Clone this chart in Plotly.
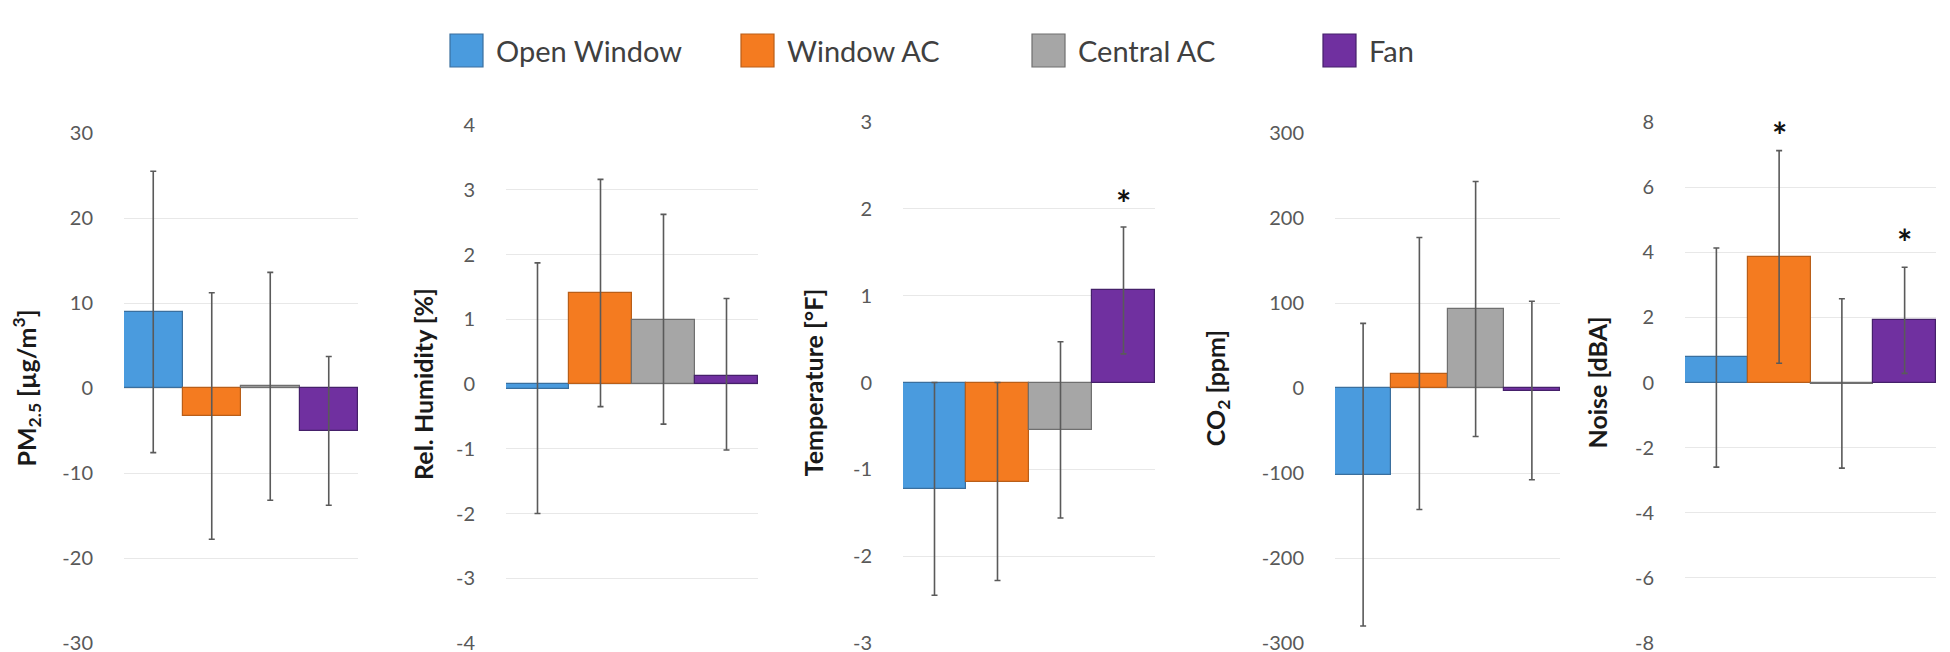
import plotly.graph_objects as go

# ---------------- data ----------------
series = ["Open Window", "Window AC", "Central AC", "Fan"]
metric_titles = ["PM<sub>2.5</sub> [µg/m<sup>3</sup>]", "Rel. Humidity [%]",
                 "Temperature [°F]", "CO<sub>2</sub> [ppm]", "Noise [dBA]"]

# mean change per series, metrics in order: PM2.5, RH, Temp, CO2, Noise
open_window = [9.0, -0.08, -1.23, -102, 0.78]
window_ac = [-3.3, 1.41, -1.15, 17, 3.84]
central_ac = [0.2, 0.99, -0.55, 93, -0.05]
fan = [-5.0, 0.12, 1.06, -3, 1.91]

# upper and lower ends of the error bars
open_window_hi = [25.5, 1.87, 0.00, 76, 4.13]
open_window_lo = [-7.6, -2.00, -2.45, -280, -2.60]
window_ac_hi = [11.2, 3.16, 0.00, 177, 7.12]
window_ac_lo = [-17.8, -0.35, -2.28, -143, 0.59]
central_ac_hi = [13.6, 2.62, 0.47, 243, 2.57]
central_ac_lo = [-13.2, -0.62, -1.56, -57, -2.63]
fan_hi = [3.7, 1.32, 1.79, 102, 3.54]
fan_lo = [-13.8, -1.02, 0.33, -108, 0.28]

# y-axis tick values and labels per metric
tick_vals = [
    [-30, -20, -10, 0, 10, 20, 30],
    [-4, -3, -2, -1, 0, 1, 2, 3, 4],
    [-3, -2, -1, 0, 1, 2, 3],
    [-300, -200, -100, 0, 100, 200, 300],
    [-8, -6, -4, -2, 0, 2, 4, 6, 8],
]
tick_text = [
    ["-30", "-20", "-10", "0", "10", "20", "30"],
    ["-4", "-3", "-2", "-1", "0", "1", "2", "3", "4"],
    ["-3", "-2", "-1", "0", "1", "2", "3"],
    ["-300", "-200", "-100", "0", "100", "200", "300"],
    ["-8", "-6", "-4", "-2", "0", "2", "4", "6", "8"],
]

# significance marks: (metric index, series index, y position)
sig_metric = [2, 4, 4]
sig_series = [3, 1, 3]
sig_y = [2.11, 7.73, 4.45]

values = [open_window, window_ac, central_ac, fan]
highs = [open_window_hi, window_ac_hi, central_ac_hi, fan_hi]
lows = [open_window_lo, window_ac_lo, central_ac_lo, fan_lo]

# ---------------- style ----------------
W, H = 1950, 652
fills = ["#4A9BDE", "#F47B20", "#A6A6A6", "#7030A0"]
edges = ["#3A6F9E", "#B95E18", "#6F6F6F", "#45206A"]
FONT = "Lato"
panel_x = [(116, 350), (498, 750), (895, 1147), (1327, 1552), (1677, 1928)]
panel_y = [(125, 635), (117, 635), (114, 635), (125, 635), (114, 635)]
title_standoff = [19, 15, 22, 29, 20]

fig = go.Figure()

for m in range(5):
    ax = "" if m == 0 else str(m + 1)
    for s in range(4):
        v = values[s][m]
        fig.add_trace(go.Bar(
            x=[s], y=[v], width=1.0,
            name=series[s], showlegend=False,
            marker=dict(color=fills[s], line=dict(color=edges[s], width=1.2)),
            error_y=dict(type="data", symmetric=False,
                         array=[highs[s][m] - v], arrayminus=[v - lows[s][m]],
                         color="#5A5A5A", thickness=1.6, width=3),
            xaxis="x" + ax, yaxis="y" + ax,
        ))

layout = dict(
    width=W, height=H,
    margin=dict(l=0, r=0, t=0, b=0),
    paper_bgcolor="white", plot_bgcolor="white",
    bargap=0, barmode="overlay",
    font=dict(family=FONT, color="#595959"),
    showlegend=False,
)

for m in range(5):
    ax = "" if m == 0 else str(m + 1)
    x0, x1 = panel_x[m]
    yt, yb = panel_y[m]
    layout["xaxis" + ax] = dict(
        domain=[x0 / W, x1 / W], range=[-0.5, 3.5],
        showticklabels=False, showgrid=False, zeroline=False,
        showline=False, ticks="", anchor="y" + ax, fixedrange=True,
    )
    layout["yaxis" + ax] = dict(
        domain=[1 - yb / H, 1 - yt / H],
        range=[tick_vals[m][0], tick_vals[m][-1]],
        tickmode="array", tickvals=tick_vals[m], ticktext=tick_text[m],
        showgrid=True, gridcolor="#E8E8E8", gridwidth=1,
        zeroline=False, showline=False, ticks="",
        tickfont=dict(size=20, color="#595959", family=FONT),
        ticklabelstandoff=30,
        title=dict(text="<b>" + metric_titles[m] + "</b>",
                   font=dict(size=25, color="#1A1A1A", family=FONT),
                   standoff=title_standoff[m]),
        anchor="x" + ax, automargin=False, fixedrange=True,
    )

fig.update_layout(**layout)

# significance asterisks
for k in range(len(sig_metric)):
    m = sig_metric[k]
    ax = "" if m == 0 else str(m + 1)
    fig.add_annotation(x=sig_series[k], y=sig_y[k], xref="x" + ax, yref="y" + ax,
                       text="<b>*</b>", showarrow=False,
                       font=dict(size=36, color="#111111", family=FONT),
                       yanchor="middle", yshift=-4)

# legend drawn manually at the top
leg_x0, leg_dx = 442, 291
for s in range(4):
    xs = leg_x0 + s * leg_dx
    fig.add_shape(type="rect", xref="paper", yref="paper",
                  x0=xs / W, x1=(xs + 33) / W, y0=1 - 59 / H, y1=1 - 26 / H,
                  fillcolor=fills[s], line=dict(color=edges[s], width=1.2))
    fig.add_annotation(x=(xs + 44) / W, y=1 - 43 / H, xref="paper", yref="paper",
                       text=series[s], showarrow=False, xanchor="left", yanchor="middle",
                       font=dict(size=29, color="#404040", family=FONT))

fig.write_html("out.html")
